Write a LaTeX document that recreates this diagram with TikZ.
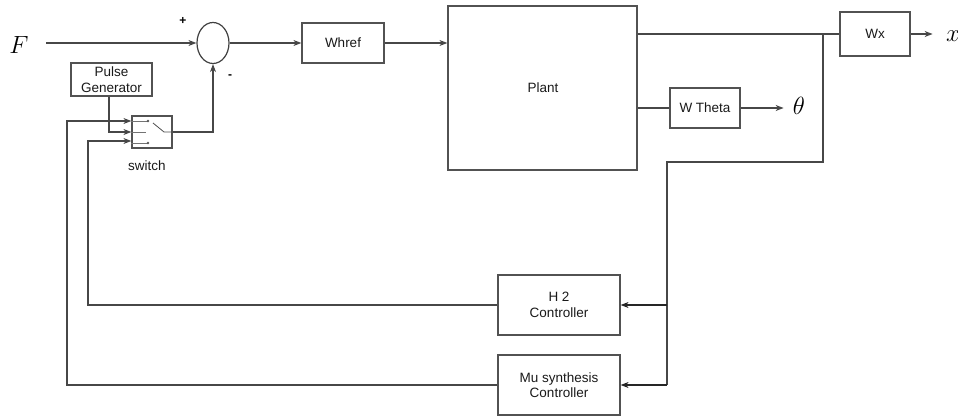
\documentclass[tikz,border=0pt]{standalone}
\usepackage{fontspec}
\setmainfont{Liberation Sans}
\usetikzlibrary{shapes.geometric,arrows.meta}
\begin{document}
\begin{tikzpicture}[x=1pt,y=-1pt,
  ln/.style={draw=black!72,line width=1.2pt},
  arr/.style={ln,-{Stealth[length=8pt,width=6pt]}},
  blk/.style={draw=black!68,line width=1.2pt,rectangle,inner sep=0pt,align=center,font=\fontsize{13.5}{15.5}\selectfont,text=black!90},
  sym/.style={font=\fontsize{26}{28}\selectfont,inner sep=0pt},
  sgn/.style={font=\bfseries\fontsize{12}{14}\selectfont,inner sep=0pt}]
\useasboundingbox (0,0) rectangle (958,417);
% nodes
\node[sym] (F) at (19,45) {$F$};
\coordinate (Fs) at (46,43);
\node[ellipse,draw=black!75,line width=1.2pt,minimum width=32pt,minimum height=41pt,inner sep=0pt] (sum) at (213,43) {};
\node[sgn] (plus) at (183,21) {+};
\node[sgn] (minus) at (230,77) {-};
\node[blk,minimum width=82pt,minimum height=40pt] (Whref) at (343,43) {Whref};
\node[blk,minimum width=189pt,minimum height=164pt] (Plant) at (542.5,88) {};
\node[font=\fontsize{13.5}{15.5}\selectfont,text=black!90] (plantlbl) at (543,88) {Plant};
\node[blk,minimum width=70pt,minimum height=44pt] (Wx) at (875,34) {Wx};
\node[sym] (xo) at (953,36) {$x$};
\node[blk,minimum width=70pt,minimum height=40pt] (WT) at (705,108) {W Theta};
\node[sym] (th) at (799,106) {$\theta$};
\node[blk,minimum width=81pt,minimum height=33pt,font=\fontsize{13.5}{16}\selectfont] (Pulse) at (111.5,79.5) {Pulse\\Generator};
\node[blk,minimum width=40pt,minimum height=32pt] (sw) at (152,132) {};
\node[font=\fontsize{13.5}{15.5}\selectfont,text=black!90] (swl) at (147,166) {switch};
\node[blk,minimum width=122pt,minimum height=60pt] (H2) at (559,305) {H 2\\Controller};
\node[blk,minimum width=122pt,minimum height=60pt] (Mu) at (559,385) {Mu synthesis\\Controller};
% switch internals
\coordinate (c1) at (148,121);
\coordinate (c3) at (148,143);
\draw[black!55,line width=0.6pt] ([yshift=11pt]sw.west) -- (c1) (sw.west) -- ++(15,0) ([yshift=-11pt]sw.west) -- (c3);
\fill[black!65] (c1) circle (1.4pt) (c3) circle (1.4pt);
\draw[black!70,line width=0.8pt] (153,123) -- (164,132) -- (sw.east);
% connectors
\draw[arr] (Fs) -- (sum.west);
\draw[arr] (sum.east) -- (Whref.west);
\draw[arr] (Whref.east) -- (Plant.west |- Whref.east);
\draw[ln] (Plant.east |- Wx.west) -- (Wx.west);
\draw[arr] (Wx.east) -- ++(22,0);
\draw[ln] (Plant.east |- WT.west) -- (WT.west);
\draw[arr] (WT.east) -- ++(43,0);
\draw[arr] (sw.east) -| (sum.south);
\draw[arr] ([xshift=-2.5pt]Pulse.south) |- (sw.west);
\coordinate (br) at (823,34);
\coordinate (fb) at (667,162);
\draw[ln] (br) |- (fb) -- (fb |- Mu.east);
\draw[arr,draw=black!85] (fb |- H2.east) -- (H2.east);
\draw[arr,draw=black!85] (fb |- Mu.east) -- (Mu.east);
\draw[arr] (H2.west) -- (88,305) |- ([yshift=-9pt]sw.west);
\draw[arr] (Mu.west) -- (67,385) |- ([yshift=11pt]sw.west);
\end{tikzpicture}
\end{document}
